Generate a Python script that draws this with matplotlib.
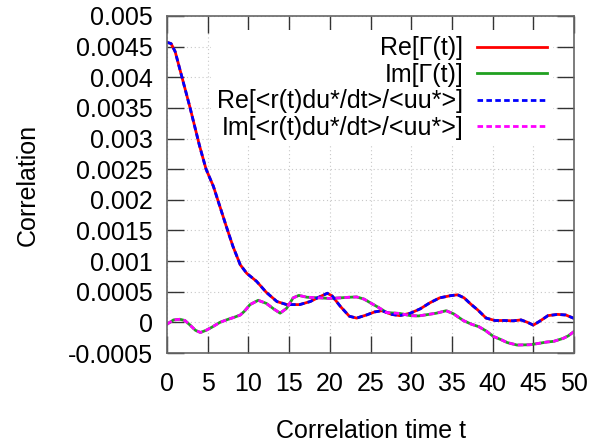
import matplotlib
matplotlib.use("Agg")
import matplotlib.pyplot as plt
import numpy as np

plt.rcParams['font.family'] = ['Liberation Sans', 'DejaVu Sans']

# Re part (1e-4 units)
t_re = [0, 0.5, 1.0, 1.6, 2.2, 2.8, 3.4, 4.0, 4.8, 5.7, 6.5, 7.3, 8.1, 9.0, 9.8,
        11.0, 12.2, 13.5, 14.7, 16.3, 17.6, 18.8, 19.7, 20.3, 21.3, 22.4, 23.3,
        24.5, 25.5, 26.4, 27.6, 28.6, 29.9, 31.1, 32.3, 33.5, 34.8, 35.7, 36.5,
        37.3, 38.2, 39.2, 40.3, 41.5, 42.5, 43.5, 44.3, 45.0, 45.8, 46.8, 48.0,
        49.0, 50.0]
re_vals = [45.7, 45.5, 44.2, 41.2, 38.2, 35.2, 32.0, 28.8, 25.0, 22.2, 18.9, 15.6,
           12.4, 9.4, 8.0, 6.7, 4.9, 3.4, 2.9, 2.9, 3.4, 4.2, 4.75, 4.3, 2.6, 1.0,
           0.7, 1.2, 1.7, 1.9, 1.3, 1.1, 1.5, 2.2, 3.2, 4.0, 4.35, 4.5, 4.0, 3.0,
           2.0, 0.7, 0.3, 0.3, 0.25, 0.4, 0.0, -0.45, 0.2, 1.1, 1.3, 1.2, 0.65]

# Im part (1e-4 units)
t_im = [0, 0.8, 1.6, 2.2, 2.8, 3.5, 4.1, 4.8, 5.5, 6.5, 7.5, 8.2, 9.0, 9.5, 10.2,
        11.2, 12.2, 13.1, 13.9, 14.7, 15.5, 16.2, 17.2, 18.8, 20.0, 21.3, 22.4,
        23.3, 24.2, 25.1, 25.9, 27.0, 28.6, 29.9, 30.9, 31.9, 33.1, 34.3, 35.2,
        36.4, 37.4, 38.3, 39.2, 40.1, 41.0, 41.8, 43.0, 44.6, 45.8, 46.7, 47.5,
        48.7, 49.3, 50.0]
im_vals = [-0.3, 0.4, 0.5, 0.3, -0.4, -1.3, -1.65, -1.3, -0.8, 0.0, 0.5, 0.8, 1.2,
           1.8, 2.9, 3.6, 3.1, 2.2, 1.5, 2.3, 4.0, 4.4, 4.1, 4.0, 3.9, 4.0, 4.1,
           4.15, 3.8, 3.1, 2.5, 1.6, 1.45, 1.1, 1.05, 1.25, 1.5, 1.9, 1.4, 0.3,
           -0.3, -0.7, -1.4, -2.3, -2.8, -3.3, -3.7, -3.65, -3.4, -3.2, -3.1, -2.6,
           -2.2, -1.5]

labels = ['Re[Γ(t)]', 'Im[Γ(t)]', 'Re[<r(t)du*/dt>/<uu*>]', 'Im[<r(t)du*/dt>/<uu*>]']

re = np.array(re_vals) * 1e-4
im = np.array(im_vals) * 1e-4

fig = plt.figure(figsize=(6.05, 4.44), dpi=100)
ax = fig.add_axes([167/605, 1 - 353/444, (574-167)/605, (353-16)/444])

lw = 2.0
ax.plot(t_re, re, color='#ff0000', lw=lw, label=labels[0])
ax.plot(t_im, im, color='#20a020', lw=lw, label=labels[1])
ax.plot(t_re, re, color='#0000ff', lw=lw, dashes=(2.0, 1.2), label=labels[2])
ax.plot(t_im, im, color='#ff00ff', lw=lw, dashes=(2.0, 1.2), label=labels[3])

ax.set_xlim(0, 50)
ax.set_ylim(-0.0005, 0.005)
ax.set_xticks(np.arange(0, 51, 5))
ax.set_yticks(np.arange(-0.0005, 0.00501, 0.0005))
ax.set_yticklabels(['-0.0005', '0', '0.0005', '0.001', '0.0015', '0.002', '0.0025',
                    '0.003', '0.0035', '0.004', '0.0045', '0.005'])

ax.grid(True, color='#c8c8c8', linestyle=(0, (1, 2.5)), linewidth=0.8)
ax.set_axisbelow(True)
for s in ax.spines.values():
    s.set_color('#666666')
    s.set_linewidth(1.2)
ax.tick_params(direction='in', length=12, width=1, color='#333333',
               top=True, right=True, labelsize=18)
ax.tick_params(axis='x', pad=14)
ax.tick_params(axis='y', pad=10)

ax.set_xlabel('Correlation time t', fontsize=18, labelpad=16)
ax.set_ylabel('Correlation', fontsize=18, labelpad=20)

leg = ax.legend(loc='upper right', bbox_to_anchor=(0.98, 0.995), fontsize=18,
                markerfirst=False, handlelength=2.8, handletextpad=0.55,
                labelspacing=0.1, borderpad=0.25, frameon=True, fancybox=False,
                facecolor='white', edgecolor='none', framealpha=1)
for txt in leg.get_texts():
    txt.set_ha('right')
leg._legend_box.align = 'right'

fig.savefig('out.png', dpi=100)
